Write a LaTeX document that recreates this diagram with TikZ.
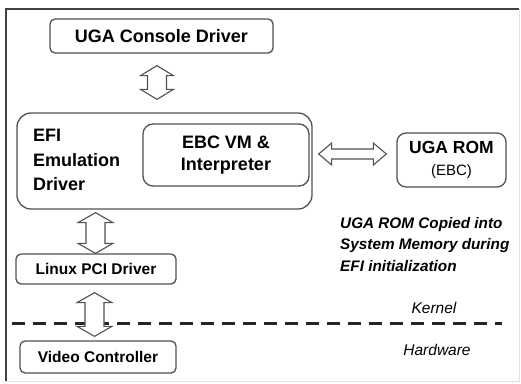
\documentclass[tikz,border=0pt]{standalone}
\usepackage{fontspec}
\setmainfont{Liberation Sans}
\usetikzlibrary{calc}
\definecolor{boxgray}{HTML}{505050}
\begin{document}
\begin{tikzpicture}[x=1pt,y=-1pt,
  box/.style={draw=boxgray, line width=1.3pt, rounded corners=#1, inner sep=0pt, align=center},
  box/.default=5pt,
  bigtxt/.style={font=\bfseries\fontsize{18}{22}\selectfont},
  midtxt/.style={font=\bfseries\fontsize{15.5}{20}\selectfont},
  note/.style={font=\bfseries\itshape\fontsize{15.3}{21.5}\selectfont, align=left, inner sep=0pt},
  layer/.style={font=\itshape\fontsize{15.5}{18}\selectfont, inner sep=0pt},
  dbl/.style n args={3}{draw=boxgray, line width=1.1pt, fill=white, line join=miter,
    to path={
      -- ($(\tikztostart)!#1!(\tikztotarget)!#2!90:(\tikztotarget)$)
      -- ($(\tikztostart)!#1!(\tikztotarget)!#3!90:(\tikztotarget)$)
      -- ($(\tikztotarget)!#1!(\tikztostart)!#3!-90:(\tikztostart)$)
      -- ($(\tikztotarget)!#1!(\tikztostart)!#2!-90:(\tikztostart)$)
      -- (\tikztotarget)
      -- ($(\tikztotarget)!#1!(\tikztostart)!#2!90:(\tikztostart)$)
      -- ($(\tikztotarget)!#1!(\tikztostart)!#3!90:(\tikztostart)$)
      -- ($(\tikztostart)!#1!(\tikztotarget)!#3!-90:(\tikztotarget)$)
      -- ($(\tikztostart)!#1!(\tikztotarget)!#2!-90:(\tikztotarget)$)
      -- cycle}}
]
\useasboundingbox (0,0) rectangle (521,383);
% frame
\draw[line width=1.6pt, color=black!75] (6,381) -- (6,9) -- (519,9);
\draw[line width=0.8pt, color=black!12] (519,9) -- (519,381) -- (6,381);

% boxes
\node[box, bigtxt, minimum width=223pt, minimum height=34pt] (uga) at (161.5,36) {UGA Console Driver};
\node[box=14pt, minimum width=295pt, minimum height=96pt] (efi) at (164.5,161) {};
\node[bigtxt, align=left, anchor=north west, inner sep=0pt, font=\bfseries\fontsize{18}{24.5}\selectfont] (efitext) at (33,129) {EFI\\Emulation\\Driver};
\node[box=10pt, bigtxt, minimum width=166pt, minimum height=62pt] (ebc) at (226,155) {EBC VM \&\\Interpreter};
\node[box=9pt, minimum width=109pt, minimum height=54pt, font=\fontsize{15}{22}\selectfont] (rom) at (451.5,160)
  {{\bfseries\fontsize{17.5}{22}\selectfont UGA ROM}\\{\fontsize{15}{22}\selectfont (EBC)}};
\node[box, midtxt, minimum width=160pt, minimum height=30pt] (linux) at (96,269) {Linux PCI Driver};
\node[box, midtxt, minimum width=156pt, minimum height=32pt] (video) at (98,357) {Video Controller};

% note and layer labels
\node[note, anchor=north west] (memnote) at (340,217) {UGA ROM Copied into\\System Memory during\\EFI initialization};
\node[layer, anchor=base] (kernel) at (434,313) {Kernel};
\node[layer, anchor=base] (hardware) at (437,355) {Hardware};

% dashed boundary
\draw[line width=3pt, dash pattern=on 13pt off 8pt, color=black!85] (12,323) -- (502,323);

% arrow end points
\coordinate (a1s) at ($(uga.south)+(-4.5,12)$);
\coordinate (a1e) at ($(efi.north)+(-7.5,-13)$);
\coordinate (a2s) at ($(efi.south)+(-69,3)$);
\coordinate (a2e) at ($(linux.north)+(-0.5,0)$);
\coordinate (a3s) at ($(linux.south)+(-1.5,8)$);
\coordinate (a3e) at ($(video.north)+(-3.5,-4)$);
\coordinate (a4s) at ($(ebc.east |- 0,154)+(9,0)$);
\coordinate (a4e) at ($(rom.west |- 0,154)+(-10,0)$);

\draw[dbl={10pt}{16.5pt}{9.5pt}] (a1s) to (a1e);
\draw[dbl={10pt}{17.5pt}{9.5pt}] (a2s) to (a2e);
\draw[dbl={10pt}{17.5pt}{9.5pt}] (a3s) to (a3e);
\draw[dbl={13pt}{11pt}{5pt}] (a4s) to (a4e);
\end{tikzpicture}
\end{document}
